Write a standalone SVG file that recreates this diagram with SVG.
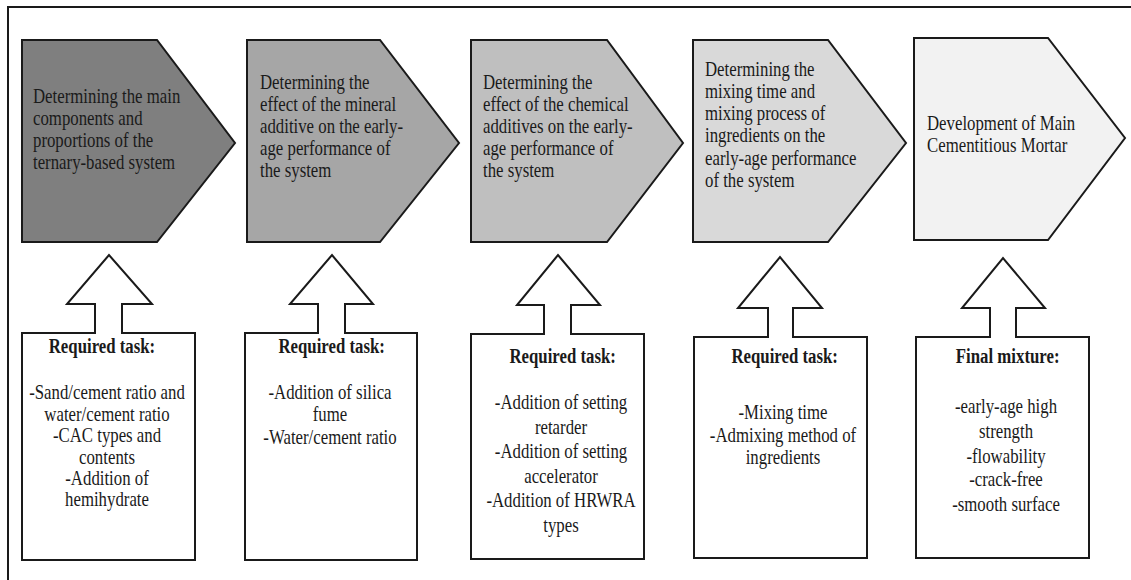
<svg xmlns="http://www.w3.org/2000/svg" width="1131" height="580" viewBox="0 0 1131 580">
<style>
.shape{stroke:#1a1a1a;stroke-width:2;stroke-linejoin:miter}
.box{fill:#ffffff}
.t{font-family:"Liberation Serif","Times New Roman",serif;font-size:20px;fill:#1a1a1a}
.b{font-weight:bold}
.c{text-anchor:middle}
</style>
<rect width="1131" height="580" fill="#ffffff"/>
<g id="frame" fill="none" stroke="#1a1a1a" stroke-width="2">
<path d="M8,580 V7 H1131"/>
</g>
<g id="step1">
<polygon class="shape" fill="#7f7f7f" points="22,40 157,40 235,143 157,242 22,242"/>
<text class="t" transform="translate(33 0) scale(0.84 1)"><tspan x="0" y="103">Determining the main</tspan><tspan x="0" y="125">components and</tspan><tspan x="0" y="147">proportions of the</tspan><tspan x="0" y="169">ternary-based system</tspan></text>
</g>
<g id="step2">
<polygon class="shape" fill="#a6a6a6" points="247,40 380,40 459,143 380,242 247,242"/>
<text class="t" transform="translate(260 0) scale(0.84 1)"><tspan x="0" y="89">Determining the</tspan><tspan x="0" y="111">effect of the mineral</tspan><tspan x="0" y="133">additive on the early-</tspan><tspan x="0" y="155">age performance of</tspan><tspan x="0" y="177">the system</tspan></text>
</g>
<g id="step3">
<polygon class="shape" fill="#bfbfbf" points="471,40 607,40 683,143 607,242 471,242"/>
<text class="t" transform="translate(483 0) scale(0.84 1)"><tspan x="0" y="89">Determining the</tspan><tspan x="0" y="111">effect of the chemical</tspan><tspan x="0" y="133">additives on the early-</tspan><tspan x="0" y="155">age performance of</tspan><tspan x="0" y="177">the system</tspan></text>
</g>
<g id="step4">
<polygon class="shape" fill="#d9d9d9" points="693,40 828,40 906,143 828,242 693,242"/>
<text class="t" transform="translate(705 0) scale(0.84 1)"><tspan x="0" y="76">Determining the</tspan><tspan x="0" y="98">mixing time and</tspan><tspan x="0" y="120">mixing process of</tspan><tspan x="0" y="142">ingredients on the</tspan><tspan x="0" y="165">early-age performance</tspan><tspan x="0" y="187">of the system</tspan></text>
</g>
<g id="step5">
<polygon class="shape" fill="#f2f2f2" points="914,38 1048,38 1125,138 1048,240 914,240"/>
<text class="t" transform="translate(927 0) scale(0.84 1)"><tspan x="0" y="130">Development of Main</tspan><tspan x="0" y="152">Cementitious Mortar</tspan></text>
</g>
<g id="connectors">
<path class="shape box" d="M22,333 H95 V304 H67 L109,255 L152,304 H122 V333 H195 V560 H22 Z"/>
<path class="shape box" d="M245,333 H318 V304 H290 L332,255 L373,304 H345 V333 H417 V560 H245 Z"/>
<path class="shape box" d="M471,334 H544 V305 H517 L558,255 L600,305 H571 V334 H644 V559 H471 Z"/>
<path class="shape box" d="M694,337 H768 V308 H738 L780,257 L822,308 H793 V337 H867 V558 H694 Z"/>
<path class="shape box" d="M916,337 H990 V308 H962 L1003,258 L1045,308 H1016 V337 H1089 V558 H916 Z"/>
</g>
<g id="task1">
<text class="t c" transform="translate(107 0) scale(0.84 1)"><tspan class="b" x="-6" y="353">Required task:</tspan><tspan x="0" y="399">-Sand/cement ratio and</tspan><tspan x="0" y="421">water/cement ratio</tspan><tspan x="0" y="442">-CAC types and</tspan><tspan x="0" y="464">contents</tspan><tspan x="0" y="485">-Addition of</tspan><tspan x="0" y="506">hemihydrate</tspan></text>
</g>
<g id="task2">
<text class="t c" transform="translate(330 0) scale(0.84 1)"><tspan class="b" x="2" y="353">Required task:</tspan><tspan x="0" y="399">-Addition of silica</tspan><tspan x="0" y="421">fume</tspan><tspan x="0" y="444">-Water/cement ratio</tspan></text>
</g>
<g id="task3">
<text class="t c" transform="translate(561 0) scale(0.84 1)"><tspan class="b" x="2" y="363">Required task:</tspan><tspan x="0" y="409">-Addition of setting</tspan><tspan x="0" y="434">retarder</tspan><tspan x="0" y="458">-Addition of setting</tspan><tspan x="0" y="483">accelerator</tspan><tspan x="0" y="507">-Addition of HRWRA</tspan><tspan x="0" y="532">types</tspan></text>
</g>
<g id="task4">
<text class="t c" transform="translate(783 0) scale(0.84 1)"><tspan class="b" x="2" y="363">Required task:</tspan><tspan x="0" y="419">-Mixing time</tspan><tspan x="0" y="442">-Admixing method of</tspan><tspan x="0" y="464">ingredients</tspan></text>
</g>
<g id="task5">
<text class="t c" transform="translate(1006 0) scale(0.84 1)"><tspan class="b" x="2" y="363">Final mixture:</tspan><tspan x="0" y="413">-early-age high</tspan><tspan x="0" y="438">strength</tspan><tspan x="0" y="463">-flowability</tspan><tspan x="0" y="486">-crack-free</tspan><tspan x="0" y="511">-smooth surface</tspan></text>
</g>
</svg>
